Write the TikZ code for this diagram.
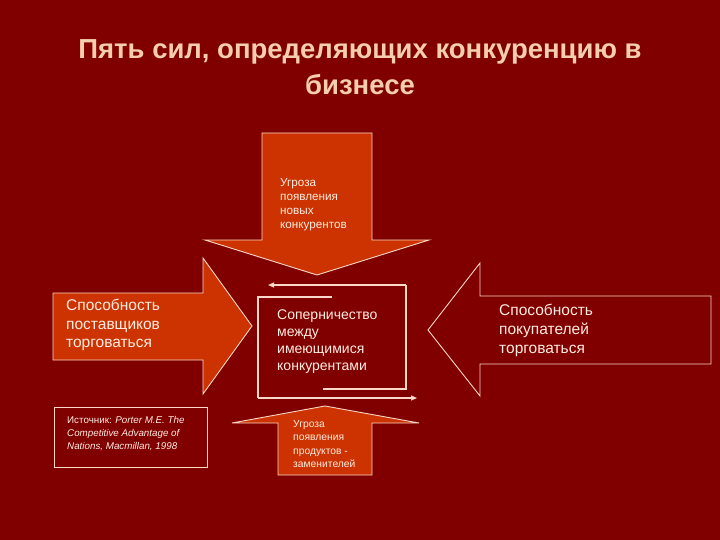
\documentclass[tikz,border=0pt]{standalone}
\usepackage{fontspec}
\setmainfont{Liberation Sans}
\usetikzlibrary{arrows.meta}
\definecolor{bg}{RGB}{128,0,0}
\definecolor{orng}{RGB}{204,51,0}
\definecolor{edgec}{RGB}{250,215,200}
\definecolor{titlec}{RGB}{245,205,175}
\definecolor{txtc}{RGB}{255,236,226}
\begin{document}
\begin{tikzpicture}[x=1pt,y=-1pt,
  shapeline/.style={draw=edgec,line width=0.9pt,line join=miter},
  filled/.style={shapeline,fill=orng},
  boxline/.style={draw=edgec,line width=1.2pt},
  tip/.style={-{Triangle[length=6pt,width=5pt]}},
  lbl/.style={anchor=north west,inner sep=0pt,align=left,text=txtc}]
\fill[bg] (0,0) rectangle (720,540);
\useasboundingbox (0,0) rectangle (720,540);

% title
\node[anchor=north,inner sep=0pt,align=center,text=titlec,
  font=\fontsize{27.5}{36}\selectfont\bfseries] (title) at (360,39)
  {Пять сил, определяющих конкуренцию в\\бизнесе};

% top arrow (down)
\path[filled] (262,133) -- (372,133) -- (372,240) -- (429,240) -- (317,275)
  -- (205,240) -- (262,240) -- cycle;
% left arrow (right)
\path[filled] (53,293) -- (203,293) -- (203,258) -- (252,326) -- (203,394)
  -- (203,360) -- (53,360) -- cycle;
% right arrow (left), outline only
\path[shapeline] (711,296) -- (480,296) -- (480,263) -- (428,330) -- (480,396)
  -- (480,364) -- (711,364) -- cycle;
% bottom arrow (up)
\path[filled] (278,475) -- (278,423) -- (232,423) -- (325,406) -- (419,423)
  -- (372,423) -- (372,475) -- cycle;

% centre box
\coordinate (tl) at (258,297);
\coordinate (tm) at (332,297);
\coordinate (bl) at (258,398);
\coordinate (br) at (417,398);
\coordinate (tr) at (406,285);
\coordinate (ta) at (268,285);
\coordinate (rb) at (406,389);
\coordinate (bm) at (323,389);
\draw[boxline] (tm) -- (tl) -- (bl);
\draw[boxline,tip] (bl) -- (br);
\draw[boxline,tip] (tr) -- (ta);
\draw[boxline] (tr) -- (rb) -- (bm);

% source box
\node[draw=edgec,line width=0.9pt,minimum width=153pt,minimum height=60pt,
  inner sep=0pt,anchor=north west] (src) at (54,407) {};
\node[lbl,font=\fontsize{9.8}{13.3}\selectfont] (srct) at (67,416)
  {Источник: \textit{Porter M.E. The}\\\textit{Competitive Advantage of}\\\textit{Nations, Macmillan, 1998}};

% texts
\node[lbl,font=\fontsize{11.7}{14.2}\selectfont] (t1) at (280,178)
  {Угроза\\появления\\новых\\конкурентов};
\node[lbl,font=\fontsize{15.5}{18.5}\selectfont] (t2) at (66,299)
  {Способность\\поставщиков\\торговаться};
\node[lbl,font=\fontsize{14}{16.7}\selectfont] (t3) at (277,310)
  {Соперничество\\между\\имеющимися\\конкурентами};
\node[lbl,font=\fontsize{15.5}{19}\selectfont] (t4) at (499,304)
  {Способность\\покупателей\\торговаться};
\node[lbl,font=\fontsize{10.3}{13.4}\selectfont] (t5) at (293,420)
  {Угроза\\появления\\продуктов -\\заменителей};
\end{tikzpicture}
\end{document}
